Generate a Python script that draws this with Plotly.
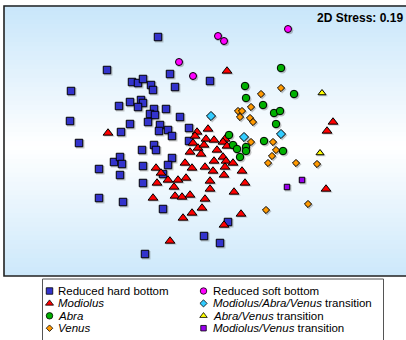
import plotly.graph_objects as go

# ---------------- data: NMDS coordinates (arbitrary units, axis 2 drawn downward) ----------------
hard_x = [158, 107, 71, 132, 138, 143, 151, 153, 170, 175, 210, 130, 119, 141, 143, 138, 154, 150,
          155, 166, 180, 70, 130, 148, 160, 159, 168, 172, 189, 121, 79, 189, 154, 156, 142, 172,
          168, 143, 163, 99, 114, 120, 122, 120, 99, 123, 143, 163, 145, 204, 220, 228]
hard_y = [37, 70, 91, 82, 83, 79, 85, 90, 74, 87, 81, 102, 106, 100, 103, 107, 109, 114,
          115, 109, 117, 121, 124, 122, 125, 131, 130, 136, 128, 132, 143, 141, 145, 150, 150, 158,
          165, 166, 174, 169, 162, 157, 164, 175, 198, 202, 183, 209, 254, 236, 243, 222]

mod_x = [227, 108, 197, 195, 208, 333, 327, 206, 214, 225, 223, 227, 193, 198, 204, 190, 201, 217,
         223, 214, 226, 233, 205, 185, 192, 213, 225, 242, 156, 161, 157, 168, 178, 186, 174, 210,
         224, 245, 210, 234, 153, 175, 182, 190, 205, 202, 192, 183, 241, 170, 224, 326]
mod_y = [71, 133, 132, 136, 129, 122, 131, 139, 140, 139, 142, 146, 143, 148, 145, 152, 154, 150,
         157, 161, 161, 163, 167, 163, 168, 171, 167, 171, 168, 173, 183, 180, 180, 178, 187, 181,
         175, 183, 189, 192, 198, 196, 197, 195, 199, 208, 213, 218, 214, 241, 225, 189]

abra_x = [281, 245, 246, 263, 294, 274, 280, 276, 229, 264, 233, 237, 246, 246, 240, 283]
abra_y = [68, 86, 98, 105, 94, 113, 111, 124, 135, 141, 145, 149, 147, 151, 157, 151]

venus_x = [261, 281, 251, 238, 242, 240, 250, 253, 251, 273, 276, 272, 268, 296, 317, 308, 266]
venus_y = [94, 88, 107, 111, 111, 117, 118, 122, 142, 142, 150, 156, 163, 163, 164, 204, 210]

soft_x = [179, 193, 218, 224, 288]
soft_y = [62, 76, 36, 41, 29]

mav_x = [211, 244, 281]
mav_y = [116, 137, 134]

av_x = [322, 320]
av_y = [93, 153]

mv_x = [302, 287]
mv_y = [180, 187]

stress_label = "2D Stress: 0.19"

series = [
    # name, x, y, symbol, color, size, legend size
    ("Reduced hard bottom", hard_x, hard_y, "square", "#3333cc", 7.5, 6.5),
    ("<i>Modiolus</i>", mod_x, mod_y, "triangle-up", "#ff0000", 8.5, 7),
    ("<i>Abra</i>", abra_x, abra_y, "circle", "#00b000", 7.5, 6.5),
    ("<i>Venus</i>", venus_x, venus_y, "diamond", "#ff9900", 5.5, 5),
    ("Reduced soft bottom", soft_x, soft_y, "circle", "#ff00ff", 7, 6.5),
    ("<i>Modiolus/Abra/Venus</i> transition", mav_x, mav_y, "diamond", "#33ccff", 7, 5.5),
    ("<i>Abra/Venus</i> transition", av_x, av_y, "triangle-up", "#ffff00", 7, 6.5),
    ("<i>Modiolus/Venus</i> transition", mv_x, mv_y, "square", "#9900ee", 5.5, 5.5),
]

FONT = "Liberation Sans, Arial, sans-serif"
W, H = 406, 340
PLOT_BOTTOM_FRAC = (340 - 276) / 334.0

fig = go.Figure()

# background gradient (light blue -> white -> light blue)
top_rgb = (200, 230, 250)
n_bands = 60
y_lo, y_hi = PLOT_BOTTOM_FRAC, 1.0
for i in range(n_bands):
    f0 = y_lo + (y_hi - y_lo) * i / n_bands
    f1 = y_lo + (y_hi - y_lo) * (i + 1) / n_bands
    c = (i + 0.5) / n_bands
    t = min(1.0, abs(c - 0.48) / 0.52)
    rgb = tuple(round(255 + (tc - 255) * t) for tc in top_rgb)
    fig.add_shape(type="rect", xref="paper", yref="paper", x0=0, x1=1, y0=f0, y1=f1 + 0.002,
                  fillcolor="rgb(%d,%d,%d)" % rgb, line=dict(width=0), layer="below")

# scatter points (soft drop shadow first, then the marks)
for name, xs, ys, sym, col, sz, _ in series:
    fig.add_trace(go.Scatter(
        x=[v + 1.2 for v in xs], y=[v + 1.2 for v in ys], mode="markers", showlegend=False,
        hoverinfo="skip",
        marker=dict(symbol=sym, size=sz + 1, color="rgba(90,90,90,0.35)", line=dict(width=0)),
        xaxis="x", yaxis="y"))
for name, xs, ys, sym, col, sz, _ in series:
    fig.add_trace(go.Scatter(
        x=xs, y=ys, mode="markers", name=name, showlegend=False,
        marker=dict(symbol=sym, size=sz, color=col, line=dict(color="black", width=1)),
        xaxis="x", yaxis="y"))

# plot frame
fig.add_shape(type="rect", xref="paper", yref="paper", x0=0, x1=1.05, y0=PLOT_BOTTOM_FRAC, y1=1,
              line=dict(color="#222222", width=1.6), fillcolor="rgba(0,0,0,0)", layer="above")

fig.add_annotation(x=405, y=18, xref="x", yref="y", text="<b>%s</b>" % stress_label,
                   showarrow=False, xanchor="right", yanchor="middle",
                   font=dict(family=FONT, size=12, color="black"))

# custom legend in a second (hidden) axes pair
fig.add_shape(type="rect", xref="x2", yref="y2", x0=42.5, x1=383.5, y0=279, y1=360,
              line=dict(color="#555555", width=1), fillcolor="white", layer="below")
col_marker_x = [49.5, 203.5]
col_text_x = [56, 211]
row_y0, row_dy = 291, 12.4
for i, (name, xs, ys, sym, col, sz, lsz) in enumerate(series):
    c, r = i // 4, i % 4
    yy = row_y0 + r * row_dy
    fig.add_trace(go.Scatter(
        x=[col_marker_x[c]], y=[yy], mode="markers", showlegend=False, hoverinfo="skip",
        marker=dict(symbol=sym, size=lsz, color=col, line=dict(color="black", width=0.8)),
        xaxis="x2", yaxis="y2", cliponaxis=False))
    fig.add_annotation(x=col_text_x[c], y=yy, xref="x2", yref="y2", text=name, showarrow=False,
                       xanchor="left", yanchor="middle",
                       font=dict(family=FONT, size=11.5, color="black"))

fig.update_layout(
    width=W, height=H,
    margin=dict(l=4, r=0, t=6, b=0),
    paper_bgcolor="white", plot_bgcolor="rgba(0,0,0,0)",
    xaxis=dict(domain=[0, 1], range=[4, 406], visible=False),
    yaxis=dict(domain=[PLOT_BOTTOM_FRAC, 1], range=[276, 6], visible=False),
    xaxis2=dict(domain=[0, 1], range=[4, 406], visible=False, anchor="y2"),
    yaxis2=dict(domain=[0, PLOT_BOTTOM_FRAC], range=[340, 276], visible=False, anchor="x2"),
    showlegend=False,
)

fig.write_html("out.html", config={"displayModeBar": False},
               post_script="document.body.style.margin='0';document.body.style.overflow='hidden';")
